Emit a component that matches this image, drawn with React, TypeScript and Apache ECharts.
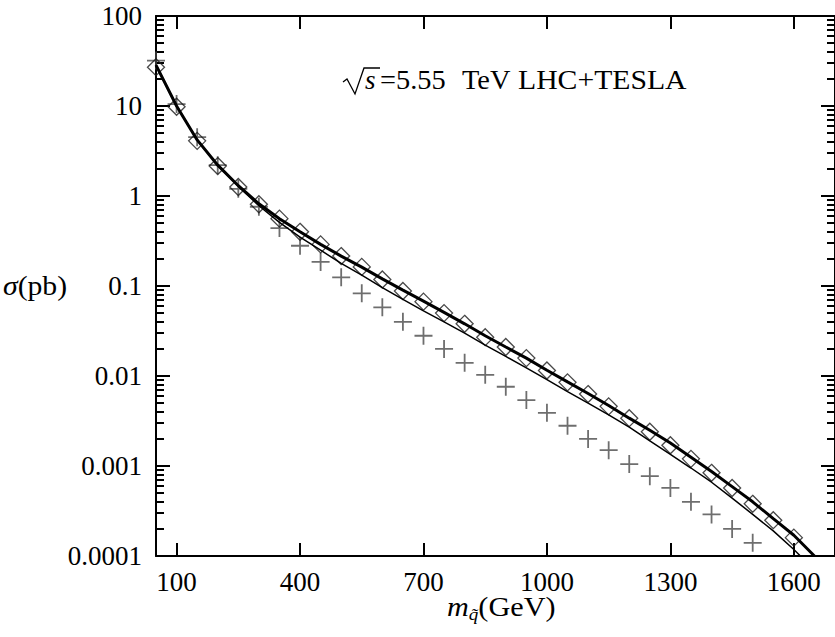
import React, { useEffect, useRef } from "react";
import * as echarts from "echarts";

// x positions (GeV)
const diamondX = [50,100,150,200,250,300,350,400,450,500,550,600,650,700,750,800,850,900,950,1000,1050,1100,1150,1200,1250,1300,1350,1400,1450,1500,1550,1600];
const diamondY = [27,9.8,4.1,2.15,1.26,0.81,0.56,0.40,0.29,0.215,0.163,0.118,0.088,0.067,0.050,0.038,0.027,0.021,0.0158,0.0115,0.0085,0.0063,0.0046,0.0034,0.0024,0.0017,0.0012,0.00084,0.00057,0.00038,0.00025,0.00016];

const crossX = [50,100,150,200,250,300,350,400,450,500,550,600,650,700,750,800,850,900,950,1000,1050,1100,1150,1200,1250,1300,1350,1400,1450,1500];
const crossY = [32,10.5,4.5,2.2,1.2,0.76,0.44,0.28,0.185,0.125,0.083,0.058,0.040,0.028,0.020,0.014,0.0103,0.0076,0.0054,0.0039,0.0028,0.0020,0.0015,0.00105,0.00077,0.00057,0.00040,0.00029,0.00020,0.00014];

const lineX = [50,100,150,200,250,300,350,400,450,500,550,600,650,700,750,800,850,900,950,1000,1050,1100,1150,1200,1250,1300,1350,1400,1450,1500,1550,1600,1650];
const upperLine = [28.5,10,4.2,2.2,1.3,0.82,0.56,0.40,0.29,0.215,0.162,0.120,0.090,0.068,0.051,0.038,0.028,0.021,0.0158,0.0116,0.0086,0.0064,0.0047,0.0034,0.0025,0.0018,0.00125,0.00087,0.00059,0.00040,0.00026,0.00017,0.0001];
const lowerLine = [28.5,10,4.2,2.2,1.28,0.78,0.51,0.35,0.25,0.178,0.132,0.096,0.071,0.053,0.040,0.030,0.022,0.0165,0.0123,0.0091,0.0067,0.0050,0.0037,0.0027,0.0019,0.00135,0.00095,0.00066,0.00044,0.00029,0.00019,0.000118,0.00007];

const xTicks = [100, 400, 700, 1000, 1300, 1600];
const yTickLabels = ["0.0001", "0.001", "0.01", "0.1", "1", "10", "100"];
const minorMultipliers = [2, 3, 4, 5, 6, 7, 8, 9];

const FONT = "'Liberation Serif', 'DejaVu Serif', serif";
const FS = 27;

export default function App() {
  const ref = useRef<HTMLDivElement>(null);
  useEffect(() => {
    if (!ref.current) return;
    const chart = echarts.init(ref.current, null, { renderer: "svg" });

    const minorExp: number[] = [];
    for (let d = -4; d < 2; d++) {
      for (const m of minorMultipliers) minorExp.push(Math.log10(m * Math.pow(10, d)));
    }

    const baseX = {
      type: "value" as const,
      min: 50,
      max: 1700,
      splitLine: { show: false },
      axisLine: { show: true, onZero: false, lineStyle: { color: "#000", width: 2 } },
      axisTick: { show: true, inside: true, length: 13, lineStyle: { color: "#000", width: 2 }, customValues: xTicks },
    };

    const minorAxis = (pos: "left" | "right") => ({
      type: "value" as const,
      position: pos,
      min: -4,
      max: 2,
      axisLine: { show: false, onZero: false },
      splitLine: { show: false },
      axisLabel: { show: false },
      axisTick: { show: true, inside: true, length: 8, lineStyle: { color: "#000", width: 2 }, customValues: minorExp },
    });

    const majorLog = (pos: "left" | "right", labels: boolean) => ({
      type: "log" as const,
      logBase: 10,
      position: pos,
      min: 0.0001,
      max: 100,
      splitNumber: 6,
      splitLine: { show: false },
      axisLine: { show: true, onZero: false, lineStyle: { color: "#000", width: 2 } },
      axisTick: { show: true, inside: true, length: 14, lineStyle: { color: "#000", width: 2 } },
      axisLabel: {
        show: labels,
        margin: 14,
        color: "#000",
        fontFamily: FONT,
        fontSize: FS,
        formatter: (v: number) => yTickLabels[Math.round(Math.log10(v)) + 4] ?? "",
      },
    });

    chart.setOption({
      animation: false,
      grid: { left: 156, top: 16, width: 683, height: 540, containLabel: false },
      xAxis: [
        {
          ...baseX,
          position: "bottom",
          axisLabel: {
            show: true,
            customValues: xTicks,
            margin: 12,
            color: "#000",
            fontFamily: FONT,
            fontSize: FS,
            formatter: (v: number) => String(v),
          },
        },
        { ...baseX, position: "top", axisLabel: { show: false } },
      ],
      yAxis: [majorLog("left", true), majorLog("right", false), minorAxis("left"), minorAxis("right")],
      series: [
        {
          type: "scatter",
          symbol: "path://M7.2,0h1.6v16h-1.6z M0,7.2h16v1.6h-16z",
          symbolSize: 18,
          itemStyle: { color: "#4a4a4a" },
          data: crossX.map((x, i) => [x, crossY[i]]),
          z: 2,
        },
        {
          type: "scatter",
          symbol: "diamond",
          symbolSize: 17,
          itemStyle: { color: "transparent", borderColor: "#1a1a1a", borderWidth: 1.3 },
          data: diamondX.map((x, i) => [x, diamondY[i]]),
          z: 3,
        },
        {
          type: "line",
          showSymbol: false,
          symbol: "none",
          lineStyle: { color: "#000", width: 3 },
          data: lineX.map((x, i) => [x, upperLine[i]]),
          z: 4,
        },
        {
          type: "line",
          showSymbol: false,
          symbol: "none",
          lineStyle: { color: "#000", width: 1.5 },
          data: lineX.map((x, i) => [x, lowerLine[i]]),
          z: 4,
        },
      ],
      graphic: [
        {
          type: "text",
          x: 3,
          y: 272,
          scaleX: 1.1,
          style: {
            text: "{i|σ}{r|(pb)}",
            rich: {
              i: { fontFamily: FONT, fontSize: FS, fontStyle: "italic", fill: "#000" },
              r: { fontFamily: FONT, fontSize: FS, fill: "#000" },
            },
          },
        },
        {
          type: "text",
          x: 447,
          y: 590,
          scaleX: 1.12,
          style: {
            text: "{i|m}{s|q̃}{r|(GeV)}",
            rich: {
              i: { fontFamily: FONT, fontSize: FS, fontStyle: "italic", fill: "#000" },
              s: { fontFamily: FONT, fontSize: 17, fontStyle: "italic", fill: "#000", verticalAlign: "bottom", padding: [16, 0, 0, 0] },
              r: { fontFamily: FONT, fontSize: FS, fill: "#000" },
            },
          },
        },
        {
          type: "polyline",
          shape: { points: [[343, 82], [347, 79], [355, 94], [364, 68], [380, 68]] },
          style: { stroke: "#000", lineWidth: 1.3, fill: "none" },
        },
        {
          type: "text",
          x: 365,
          y: 66,
          style: { text: "s", fontFamily: FONT, fontSize: FS, fontStyle: "italic", fill: "#000" },
        },
        {
          type: "text",
          x: 380,
          y: 66,
          scaleX: 1.05,
          style: { text: "=5.55", fontFamily: FONT, fontSize: FS, fill: "#000" },
        },
        {
          type: "text",
          x: 462,
          y: 66,
          scaleX: 1.05,
          style: { text: "TeV", fontFamily: FONT, fontSize: FS, fill: "#000" },
        },
        {
          type: "text",
          x: 518,
          y: 66,
          scaleX: 1.1,
          style: { text: "LHC+TESLA", fontFamily: FONT, fontSize: FS, fill: "#000" },
        },
      ],
    });
    return () => chart.dispose();
  }, []);
  return <div ref={ref} style={{ position: "absolute", left: 0, top: 0, width: 835, height: 637 }} />;
}
